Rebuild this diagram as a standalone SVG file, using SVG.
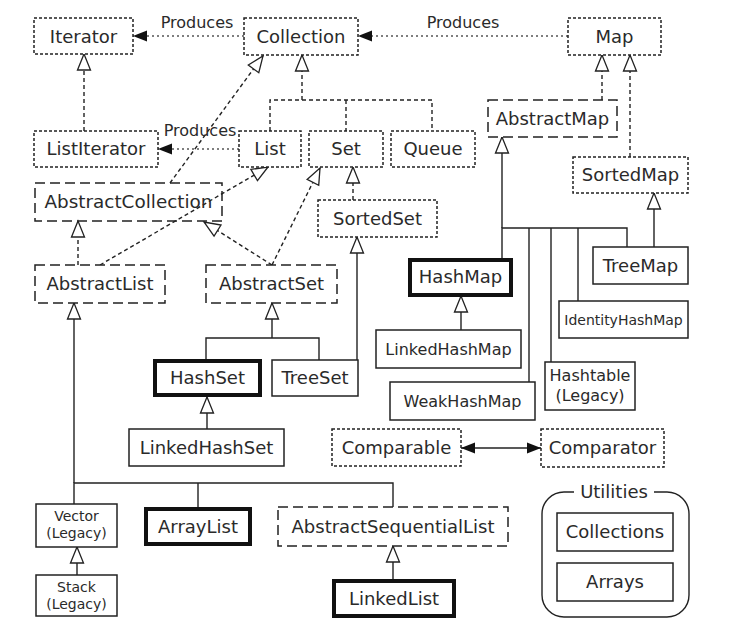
<svg xmlns="http://www.w3.org/2000/svg" width="738" height="643" viewBox="0 0 738 643">
<style>
rect.b{fill:#fff;stroke:#222;stroke-width:1.5}
.iface{stroke-dasharray:3 2}
.abs{stroke-dasharray:10 5}
rect.main{stroke-width:4;stroke:#111}
text{font-family:"DejaVu Sans","Liberation Sans",sans-serif;font-size:18px;fill:#2a2a2a;text-anchor:middle}
text.s{font-size:14px}
text.m{font-size:16px}
.c{fill:none;stroke:#222;stroke-width:1.4}
.dash{stroke-dasharray:4 3}
.dot{stroke-dasharray:2 3;stroke:#555}
</style>
<defs>
<marker id="tri" markerUnits="userSpaceOnUse" markerWidth="20" markerHeight="16" refX="17" refY="7" orient="auto" overflow="visible">
<path d="M1,0.5 L17,7 L1,13.5 z" fill="#fff" stroke="#222" stroke-width="1.3" stroke-dasharray="none"/>
</marker>
<marker id="fill" markerUnits="userSpaceOnUse" markerWidth="16" markerHeight="12" refX="14" refY="5.5" orient="auto-start-reverse" overflow="visible">
<path d="M0,0 L14,5.5 L0,11 z" fill="#111" stroke="none"/>
</marker>
</defs>
<rect width="738" height="643" fill="#fff"/>
<g id="connectors">
<path class="c dot" d="M244,36 H133" marker-end="url(#fill)"/>
<path class="c dot" d="M568,36 H358" marker-end="url(#fill)"/>
<path class="c dot" d="M239,149 H158" marker-end="url(#fill)"/>
<path class="c dash" d="M302,100 V55" marker-end="url(#tri)"/>
<path class="c dash" d="M270,131 V100 H432 V131 M346,100 V131"/>
<path class="c dash" d="M84,131 V54" marker-end="url(#tri)"/>
<path class="c dash" d="M602,100 V55" marker-end="url(#tri)"/>
<path class="c dash" d="M630,157 V55" marker-end="url(#tri)"/>
<path class="c dash" d="M353,200 V167" marker-end="url(#tri)"/>
<path class="c dash" d="M170,183 L263,56" marker-end="url(#tri)"/>
<path class="c dash" d="M100,265 L268,167" marker-end="url(#tri)"/>
<path class="c dash" d="M78,265 V221" marker-end="url(#tri)"/>
<path class="c dash" d="M272,265 L320,168" marker-end="url(#tri)"/>
<path class="c dash" d="M272,265 L204,222" marker-end="url(#tri)"/>
<path class="c" d="M272,338 V303" marker-end="url(#tri)"/>
<path class="c" d="M206,359 V338 H319 V360"/>
<path class="c" d="M357,360 V237" marker-end="url(#tri)"/>
<path class="c" d="M207,429 V397" marker-end="url(#tri)"/>
<path class="c" d="M74,483 V303" marker-end="url(#tri)"/>
<path class="c" d="M74,504 V483 H393 V507 M198,483 V507"/>
<path class="c" d="M77,575 V547" marker-end="url(#tri)"/>
<path class="c" d="M393,579 V546" marker-end="url(#tri)"/>
<path class="c" d="M502,228 V137" marker-end="url(#tri)"/>
<path class="c" d="M502,258 V228 H627 V247 M529,228 V382 M551,228 V362 M578,228 V301"/>
<path class="c" d="M654,247 V193" marker-end="url(#tri)"/>
<path class="c" d="M461,330 V296" marker-end="url(#tri)"/>
<path class="c" d="M461,448 H541" marker-start="url(#fill)" marker-end="url(#fill)"/>
</g>
<g id="labels">
<text class="m" x="197" y="28">Produces</text>
<text class="m" x="463" y="28">Produces</text>
<text class="m" x="200" y="136">Produces</text>
</g>
<g id="Iterator"><rect class="b iface" x="34" y="18" width="99" height="36"/><text x="83.5" y="42.5">Iterator</text></g>
<g id="Collection"><rect class="b iface" x="244" y="18" width="114" height="37"/><text x="301" y="42.5">Collection</text></g>
<g id="Map"><rect class="b iface" x="568" y="18" width="93" height="37"/><text x="614.5" y="42.5">Map</text></g>
<g id="ListIterator"><rect class="b iface" x="34" y="131" width="124" height="36"/><text x="96" y="155">ListIterator</text></g>
<g id="List"><rect class="b iface" x="239" y="131" width="62" height="36"/><text x="270" y="155">List</text></g>
<g id="Set"><rect class="b iface" x="309" y="131" width="74" height="36"/><text x="346" y="155">Set</text></g>
<g id="Queue"><rect class="b iface" x="391" y="131" width="84" height="36"/><text x="433" y="155">Queue</text></g>
<g id="AbstractCollection"><rect class="b abs" x="35" y="183" width="187" height="38" fill-opacity="0"/><text x="128.5" y="208" textLength="168" lengthAdjust="spacingAndGlyphs">AbstractCollection</text></g>
<g id="AbstractMap"><rect class="b abs" x="488" y="100" width="129" height="37"/><text x="552.5" y="124.5">AbstractMap</text></g>
<g id="SortedMap"><rect class="b iface" x="573" y="157" width="115" height="36"/><text x="630.5" y="181">SortedMap</text></g>
<g id="SortedSet"><rect class="b iface" x="318" y="200" width="119" height="37"/><text x="377.5" y="224.5">SortedSet</text></g>
<g id="AbstractList"><rect class="b abs" x="35" y="265" width="130" height="38"/><text x="100" y="290">AbstractList</text></g>
<g id="AbstractSet"><rect class="b abs" x="206" y="265" width="131" height="38"/><text x="271.5" y="290">AbstractSet</text></g>
<g id="HashMap"><rect class="b main" x="410" y="260" width="101" height="35"/><text x="460.5" y="283">HashMap</text></g>
<g id="TreeMap"><rect class="b" x="593" y="247" width="95" height="37"/><text x="640.5" y="271.5">TreeMap</text></g>
<g id="IdentityHashMap"><rect class="b" x="559" y="301" width="129" height="37"/><text class="s" x="623.5" y="324.5">IdentityHashMap</text></g>
<g id="Hashtable"><rect class="b" x="545" y="362" width="90" height="48"/><text class="m" x="590" y="381">Hashtable</text><text class="m" x="590" y="401">(Legacy)</text></g>
<g id="WeakHashMap"><rect class="b" x="390" y="382" width="145" height="38"/><text class="m" x="462.5" y="406.5">WeakHashMap</text></g>
<g id="LinkedHashMap"><rect class="b" x="376" y="330" width="145" height="38"/><text class="m" x="448.5" y="354.5">LinkedHashMap</text></g>
<g id="HashSet"><rect class="b main" x="155" y="361" width="105" height="34"/><text x="207.5" y="384">HashSet</text></g>
<g id="TreeSet"><rect class="b" x="272" y="360" width="86" height="36"/><text x="315" y="384">TreeSet</text></g>
<g id="LinkedHashSet"><rect class="b" x="129" y="429" width="155" height="37"/><text x="206.5" y="453.5">LinkedHashSet</text></g>
<g id="Comparable"><rect class="b iface" x="332" y="429" width="129" height="37"/><text x="396.5" y="453.5">Comparable</text></g>
<g id="Comparator"><rect class="b iface" x="541" y="429" width="123" height="38"/><text x="602.5" y="454">Comparator</text></g>
<g id="Vector"><rect class="b" x="36" y="504" width="81" height="43"/><text class="s" x="76.5" y="521">Vector</text><text class="s" x="76.5" y="538">(Legacy)</text></g>
<g id="Stack"><rect class="b" x="36" y="575" width="81" height="41"/><text class="s" x="76.5" y="592">Stack</text><text class="s" x="76.5" y="609">(Legacy)</text></g>
<g id="ArrayList"><rect class="b main" x="146" y="509" width="104" height="35"/><text x="198" y="532.5">ArrayList</text></g>
<g id="AbstractSequentialList"><rect class="b abs" x="278" y="507" width="230" height="39"/><text x="393" y="533">AbstractSequentialList</text></g>
<g id="LinkedList"><rect class="b main" x="334" y="581" width="120" height="35"/><text x="394" y="604.5">LinkedList</text></g>
<g id="Utilities">
<path class="c" d="M574,492 H564 A22,22 0 0 0 542,514 V595 A22,22 0 0 0 564,617 H667 A22,22 0 0 0 689,595 V514 A22,22 0 0 0 667,492 H654"/>
<text x="614" y="498">Utilities</text>
<g id="Collections"><rect class="b" x="557" y="513" width="116" height="38"/><text x="615" y="538">Collections</text></g>
<g id="Arrays"><rect class="b" x="557" y="563" width="116" height="38"/><text x="615" y="588">Arrays</text></g>
</g>
</svg>
